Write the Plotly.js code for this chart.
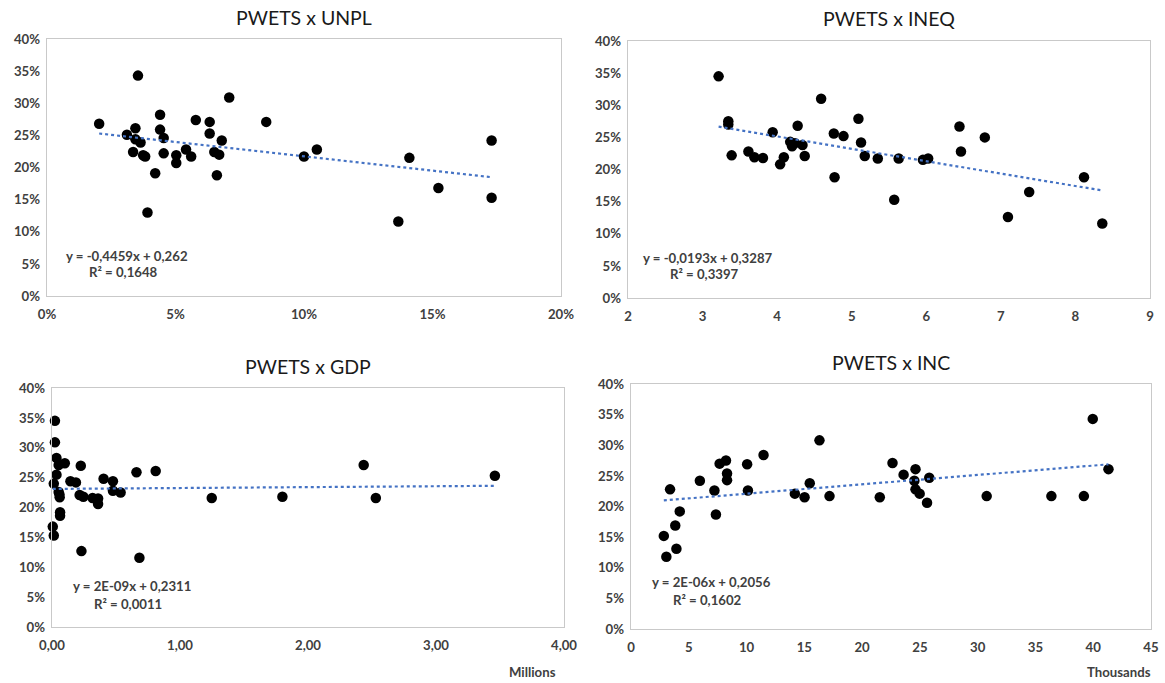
<!DOCTYPE html>
<html><head><meta charset="utf-8">
<script src="https://cdn.plot.ly/plotly-3.0.1.min.js"></script>
<style>body{margin:0;background:#fff}#c{width:1165px;height:683px}</style></head>
<body><div id="c"></div>
<script>
// PWETS (y) vs UNPL (x)
const unplX=[0.0203,0.0311,0.0354,0.0344,0.0344,0.0335,0.0364,0.0374,0.0382,0.0391,0.0421,0.0440,0.0440,0.0454,0.0454,0.0503,0.0503,0.0541,0.0561,0.0579,0.0633,0.0633,0.0651,0.0670,0.0661,0.0680,0.0709,0.0853,0.1000,0.1050,0.1367,0.1410,0.1523,0.1730,0.1730];
const unplY=[0.268,0.251,0.343,0.261,0.244,0.224,0.239,0.219,0.217,0.130,0.191,0.282,0.259,0.246,0.222,0.219,0.207,0.228,0.217,0.274,0.271,0.253,0.224,0.220,0.188,0.242,0.309,0.271,0.217,0.228,0.116,0.215,0.168,0.242,0.153];
// PWETS vs INEQ
const ineqX=[3.215,3.345,3.345,3.39,3.615,3.695,3.81,3.94,4.04,4.09,4.175,4.20,4.24,4.275,4.34,4.37,4.59,4.76,4.77,4.89,5.09,5.125,5.175,5.35,5.57,5.63,5.955,6.025,6.445,6.465,6.785,7.095,7.38,8.115,8.36];
const ineqY=[0.345,0.275,0.270,0.222,0.228,0.219,0.218,0.258,0.208,0.219,0.243,0.236,0.241,0.268,0.238,0.221,0.310,0.256,0.188,0.252,0.279,0.242,0.221,0.217,0.153,0.217,0.215,0.217,0.267,0.228,0.250,0.126,0.165,0.188,0.116];
// PWETS vs GDP (millions)
const gdpX=[0.023,0.023,0.035,0.052,0.100,0.035,0.014,0.052,0.058,0.060,0.063,0.063,0.006,0.014,0.144,0.187,0.225,0.216,0.245,0.230,0.317,0.360,0.360,0.403,0.476,0.476,0.536,0.660,0.683,0.810,1.248,1.800,2.435,2.530,3.460];
const gdpY=[0.345,0.309,0.283,0.271,0.274,0.255,0.240,0.226,0.222,0.217,0.192,0.186,0.168,0.153,0.244,0.242,0.270,0.221,0.218,0.127,0.216,0.215,0.206,0.248,0.244,0.228,0.225,0.259,0.116,0.261,0.216,0.218,0.271,0.216,0.253];
// PWETS vs INC (thousands)
const incX=[2.84,3.06,3.38,3.83,3.93,4.22,5.96,7.22,7.35,7.67,8.22,8.31,8.31,10.05,10.12,11.47,14.18,15.02,15.47,16.31,17.18,21.53,22.63,23.59,24.62,24.52,24.62,24.98,25.62,25.81,30.78,36.38,39.19,39.96,41.32];
const incY=[0.152,0.118,0.228,0.169,0.131,0.192,0.242,0.226,0.187,0.270,0.275,0.254,0.243,0.269,0.226,0.284,0.221,0.215,0.238,0.308,0.217,0.215,0.271,0.252,0.261,0.242,0.228,0.221,0.206,0.247,0.217,0.217,0.217,0.343,0.261];

const titles=['PWETS x UNPL','PWETS x INEQ','PWETS x GDP','PWETS x INC'];
const eqTexts=['y = -0,4459x + 0,262','y = -0,0193x + 0,3287','y = 2E-09x + 0,2311','y = 2E-06x + 0,2056'];
const r2Texts=['R² = 0,1648','R² = 0,3397','R² = 0,0011','R² = 0,1602'];
const slopes=[-0.4459,-0.0193,0.0015,0.00153];
const intercepts=[0.262,0.3287,0.2311,0.2056];
const xUnits=['','','Millions','Thousands'];

const W=1165,H=683;
const px=x=>x/W, py=y=>1-y/H;
const boxes=[[47,561,39,296],[628,1150,41,298],[52,564,388,627],[631,1151,384,629]];
const xRanges=[[0,0.2],[2,9],[0,4],[0,45]];
const xTick=[{tickformat:'.0%',dtick:0.05},{tickformat:'d',dtick:1},{tickformat:'.2f',dtick:1},{tickformat:'d',dtick:5}];
const xs=[unplX,ineqX,gdpX,incX], ys=[unplY,ineqY,gdpY,incY];

const FF='Lato, "Open Sans", sans-serif';
const tickFont={family:FF,size:13.2,color:'#404040',weight:700};
const traces=[], layout={width:W,height:H,margin:{l:0,r:0,t:0,b:0},showlegend:false,
  paper_bgcolor:'#fff',plot_bgcolor:'#fff',separators:', ',annotations:[]};

for(let i=0;i<4;i++){
  const s=i===0?'':String(i+1);
  const b=boxes[i];
  layout['xaxis'+s]={domain:[px(b[0]),px(b[1])],range:xRanges[i],anchor:'y'+s,showgrid:false,zeroline:false,
    showline:true,mirror:true,linecolor:'#c9c9c9',linewidth:1.3,ticks:'',tickfont:tickFont,ticklabelstandoff:6,
    tick0:xRanges[i][0],...xTick[i]};
  layout['yaxis'+s]={domain:[py(b[3]),py(b[2])],range:[0,0.4],anchor:'x'+s,showgrid:false,zeroline:false,
    showline:true,mirror:true,linecolor:'#c9c9c9',linewidth:1.3,ticks:'',tickfont:tickFont,tickformat:'.0%',dtick:0.05,ticklabelstandoff:3};
  traces.push({type:'scatter',mode:'markers',x:xs[i],y:ys[i],xaxis:'x'+s,yaxis:'y'+s,cliponaxis:false,
    marker:{color:'#000',size:10.5,line:{width:0}},hoverinfo:'skip'});
  const xmin=Math.min(...xs[i]), xmax=Math.max(...xs[i]);
  traces.push({type:'scatter',mode:'lines',x:[xmin,xmax],y:[intercepts[i]+slopes[i]*xmin,intercepts[i]+slopes[i]*xmax],
    xaxis:'x'+s,yaxis:'y'+s,line:{color:'#4472C4',width:2.2,dash:'dot'},hoverinfo:'skip'});
  const cx=(b[0]+b[1])/2;
  layout.annotations.push({text:titles[i],xref:'paper',yref:'paper',x:px(cx),y:py(b[2]-22),showarrow:false,
    font:{family:FF,size:19.5,color:'#1a1a1a'},xanchor:'center',yanchor:'middle'});
  const eqY = i<2 ? [b[2]+217, b[2]+233] : [b[2]+198, b[2]+216];
  const eqFont={family:FF,size:13.2,color:'#404040',weight:700};
  layout.annotations.push({text:eqTexts[i],xref:'paper',yref:'paper',x:px(b[0]+80),y:py(eqY[0]),showarrow:false,
    font:eqFont,xanchor:'center',yanchor:'middle'});
  layout.annotations.push({text:r2Texts[i],xref:'paper',yref:'paper',x:px(b[0]+76),y:py(eqY[1]),showarrow:false,
    font:eqFont,xanchor:'center',yanchor:'middle'});
  if(xUnits[i]) layout.annotations.push({text:xUnits[i],xref:'paper',yref:'paper',x:px(b[1]-32),y:py(672),showarrow:false,
    font:eqFont,xanchor:'center',yanchor:'middle'});
}
Plotly.newPlot('c',traces,layout,{staticPlot:true,displayModeBar:false});
</script></body></html>
